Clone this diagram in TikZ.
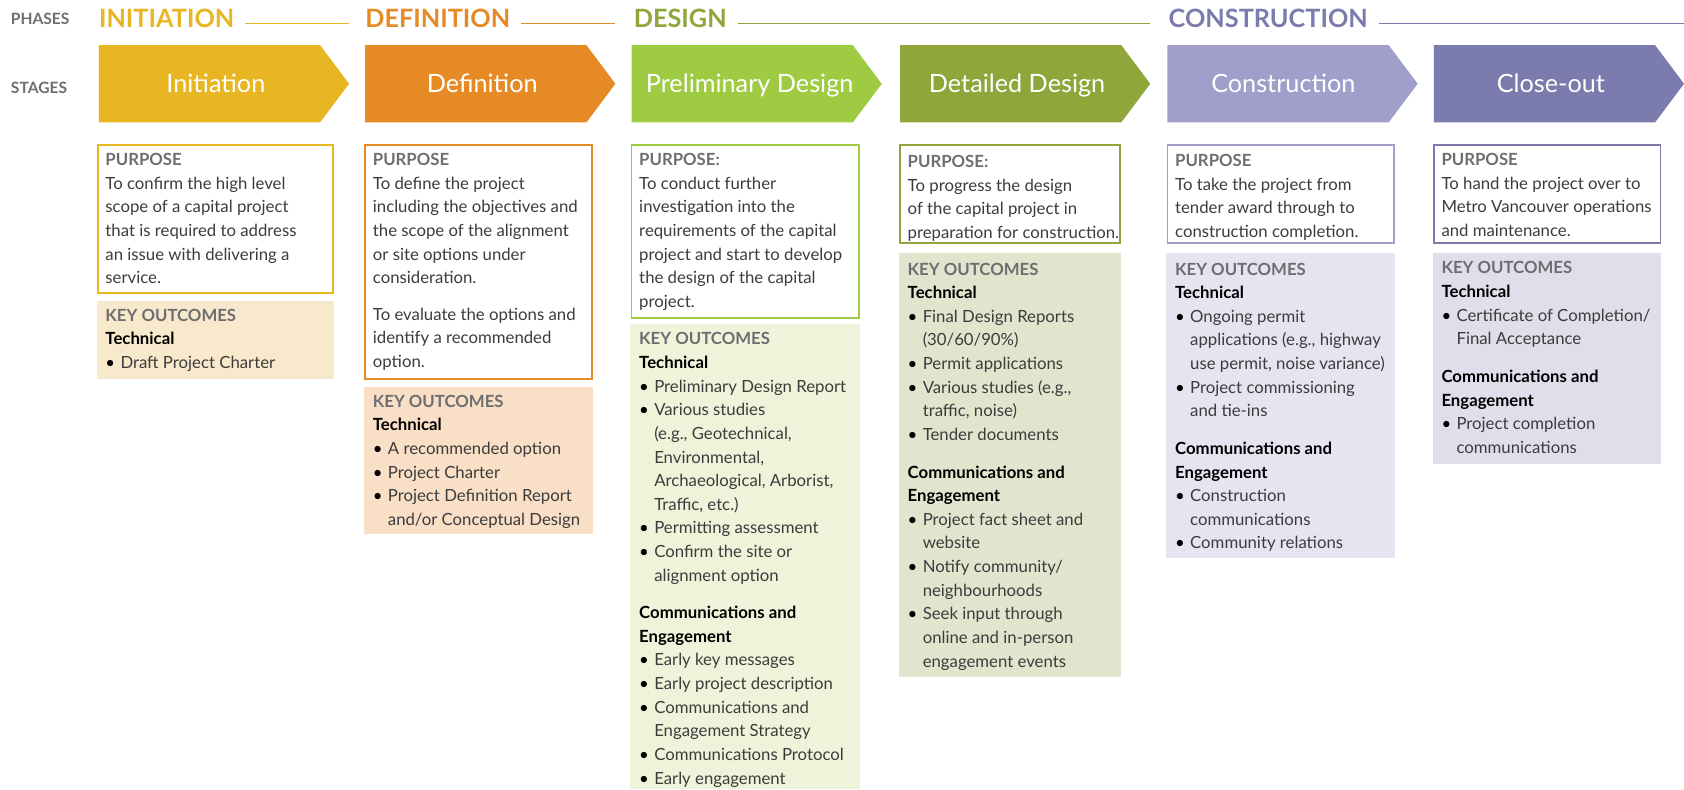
\documentclass[tikz,border=0pt]{standalone}
\usepackage{fontspec}
\setmainfont{Lato}
\usetikzlibrary{calc}
\definecolor{cyel}{HTML}{E8B523}
\definecolor{corg}{HTML}{E58A25}
\definecolor{clgr}{HTML}{9FCB43}
\definecolor{colv}{HTML}{8FA63B}
\definecolor{clav}{HTML}{A09ECB}
\definecolor{cpur}{HTML}{7B7BAD}
\definecolor{kyel}{HTML}{F9E9CC}
\definecolor{korg}{HTML}{F9DFC6}
\definecolor{klgr}{HTML}{EEF4DA}
\definecolor{kolv}{HTML}{E2E4CE}
\definecolor{klav}{HTML}{E5E4F1}
\definecolor{kpur}{HTML}{DFDEEA}
\definecolor{hdgray}{HTML}{6D6E71}
\definecolor{bodygray}{HTML}{3C3C3C}
\newcommand\hd[1]{{\color{hdgray}\bfseries #1}}
\newcommand\subhd[1]{{\color{black}\bfseries #1}}
\newcommand\bul{\makebox[14pt][l]{\color{black}\textbullet}}
\newcommand\myind{\hspace*{14pt}}
\begin{document}
\begin{tikzpicture}[x=1pt,y=-1pt,
  stagetxt/.style={text=white, font=\fontsize{23.5}{26}\selectfont, inner sep=0, anchor=base},
  phasetxt/.style={font=\fontsize{23.5}{26}\selectfont\bfseries, inner sep=0, anchor=west},
  lbl/.style={font=\fontsize{14.5}{16}\selectfont\bfseries, text=hdgray, anchor=west, inner sep=0},
  body/.style={font=\fontsize{15.6}{22}\selectfont, text=bodygray, align=left, anchor=north west, inner sep=0},
  pbox/.style={line width=1.5pt, fill=white},
  phline/.style={line width=1.1pt}]
\useasboundingbox (0,0) rectangle (1568,735);
% left labels
\node[lbl] (lphases) at (10,18) {PHASES};
\node[lbl] (lstages) at (10,82) {STAGES};
% phase titles
\node[phasetxt, text=cyel] (ph1) at (92,17.5) {INITIATION};
\node[phasetxt, text=corg] (ph2) at (340,17.5) {DEFINITION};
\node[phasetxt, text=colv] (ph3) at (590,17.5) {DESIGN};
\node[phasetxt, text=cpur] (ph4) at (1088,17.5) {CONSTRUCTION};
\coordinate (ph1e) at (325,22);
\coordinate (ph2e) at (573,22);
\coordinate (ph3e) at (1071,22);
\coordinate (ph4e) at (1568,22);
\draw[phline, cyel] ($(ph1.east)+(10,4.5)$) -- (ph1e);
\draw[phline, corg] ($(ph2.east)+(10,4.5)$) -- (ph2e);
\draw[phline, colv] ($(ph3.east)+(10,4.5)$) -- (ph3e);
\draw[phline, cpur] ($(ph4.east)+(10,4.5)$) -- (ph4e);
% stage arrows
\fill[cyel] (92,42) -- (298,42) -- (325,78) -- (298,114) -- (92,114) -- cycle;
\node[stagetxt] (s1) at (201,86) {Initiation};
\fill[corg] (340,42) -- (546,42) -- (573,78) -- (546,114) -- (340,114) -- cycle;
\node[stagetxt] (s2) at (449,86) {Definition};
\fill[clgr] (588,42) -- (794,42) -- (821,78) -- (794,114) -- (588,114) -- cycle;
\node[stagetxt] (s3) at (698,86) {Preliminary Design};
\fill[colv] (838,42) -- (1044,42) -- (1071,78) -- (1044,114) -- (838,114) -- cycle;
\node[stagetxt] (s4) at (947,86) {Detailed Design};
\fill[clav] (1087,42) -- (1293,42) -- (1320,78) -- (1293,114) -- (1087,114) -- cycle;
\node[stagetxt] (s5) at (1195,86) {Construction};
\fill[cpur] (1335,42) -- (1541,42) -- (1568,78) -- (1541,114) -- (1335,114) -- cycle;
\node[stagetxt] (s6) at (1444,86) {Close-out};
% purpose boxes
\draw[pbox, draw=cyel] (91,135) rectangle (310,273);
\draw[pbox, draw=corg] (340,135) rectangle (551,353);
\draw[pbox, draw=clgr] (588,135) rectangle (800,296);
\draw[pbox, draw=colv] (838,135) rectangle (1043,226);
\draw[pbox, draw=clav] (1087,135) rectangle (1298,226);
\draw[pbox, draw=cpur] (1335,135) rectangle (1546,226);
% key outcome boxes
\fill[kyel] (90,280) rectangle (311,353);
\fill[korg] (339,360) rectangle (552,497);
\fill[klgr] (587,302) rectangle (801,735);
\fill[kolv] (837,236) rectangle (1044,630);
\fill[klav] (1086,236) rectangle (1299,520);
\fill[kpur] (1334,236) rectangle (1547,432);
% column 1
\node[body] (p1) at (98,142.5) {\hd{PURPOSE}\\To confirm the high level\\scope of a capital project\\that is required to address\\an issue with delivering a\\service.};
\node[body] (k1) at (98,287.5) {\hd{KEY OUTCOMES}\\\subhd{Technical}\\\bul Draft Project Charter};
% column 2
\node[body] (p2) at (347,142.5) {\hd{PURPOSE}\\To define the project\\including the objectives and\\the scope of the alignment\\or site options under\\consideration.\\[12pt]To evaluate the options and\\identify a recommended\\option.};
\node[body] (k2) at (347,367.5) {\hd{KEY OUTCOMES}\\\subhd{Technical}\\\bul A recommended option\\\bul Project Charter\\\bul Project Definition Report\\\myind and/or Conceptual Design};
% column 3
\node[body] (p3) at (595,142.5) {\hd{PURPOSE:}\\To conduct further\\investigation into the\\requirements of the capital\\project and start to develop\\the design of the capital\\project.};
\node[body] (k3) at (595,309.5) {\hd{KEY OUTCOMES}\\\subhd{Technical}\\\bul Preliminary Design Report\\\bul Various studies\\\myind (e.g., Geotechnical,\\\myind Environmental,\\\myind Archaeological, Arborist,\\\myind Traffic, etc.)\\\bul Permitting assessment\\\bul Confirm the site or\\\myind alignment option\\[13pt]\subhd{Communications and}\\\subhd{Engagement}\\\bul Early key messages\\\bul Early project description\\\bul Communications and\\\myind Engagement Strategy\\\bul Communications Protocol\\\bul Early engagement};
% column 4
\node[body] (p4) at (845,144.5) {\hd{PURPOSE:}\\To progress the design\\of the capital project in\\preparation for construction.};
\node[body] (k4) at (845,244.5) {\hd{KEY OUTCOMES}\\\subhd{Technical}\\\bul Final Design Reports\\\myind (30/60/90\%)\\\bul Permit applications\\\bul Various studies (e.g.,\\\myind traffic, noise)\\\bul Tender documents\\[13pt]\subhd{Communications and}\\\subhd{Engagement}\\\bul Project fact sheet and\\\myind website\\\bul Notify community/\\\myind neighbourhoods\\\bul Seek input through\\\myind online and in-person\\\myind engagement events};
% column 5
\node[body] (p5) at (1094,143.5) {\hd{PURPOSE}\\To take the project from\\tender award through to\\construction completion.};
\node[body] (k5) at (1094,244.5) {\hd{KEY OUTCOMES}\\\subhd{Technical}\\\bul Ongoing permit\\\myind applications (e.g., highway\\\myind use permit, noise variance)\\\bul Project commissioning\\\myind and tie-ins\\[13pt]\subhd{Communications and}\\\subhd{Engagement}\\\bul Construction\\\myind communications\\\bul Community relations};
% column 6
\node[body] (p6) at (1342,142.5) {\hd{PURPOSE}\\To hand the project over to\\Metro Vancouver operations\\and maintenance.};
\node[body] (k6) at (1342,243.5) {\hd{KEY OUTCOMES}\\\subhd{Technical}\\\bul Certificate of Completion/\\\myind Final Acceptance\\[13pt]\subhd{Communications and}\\\subhd{Engagement}\\\bul Project completion\\\myind communications};
\end{tikzpicture}
\end{document}
